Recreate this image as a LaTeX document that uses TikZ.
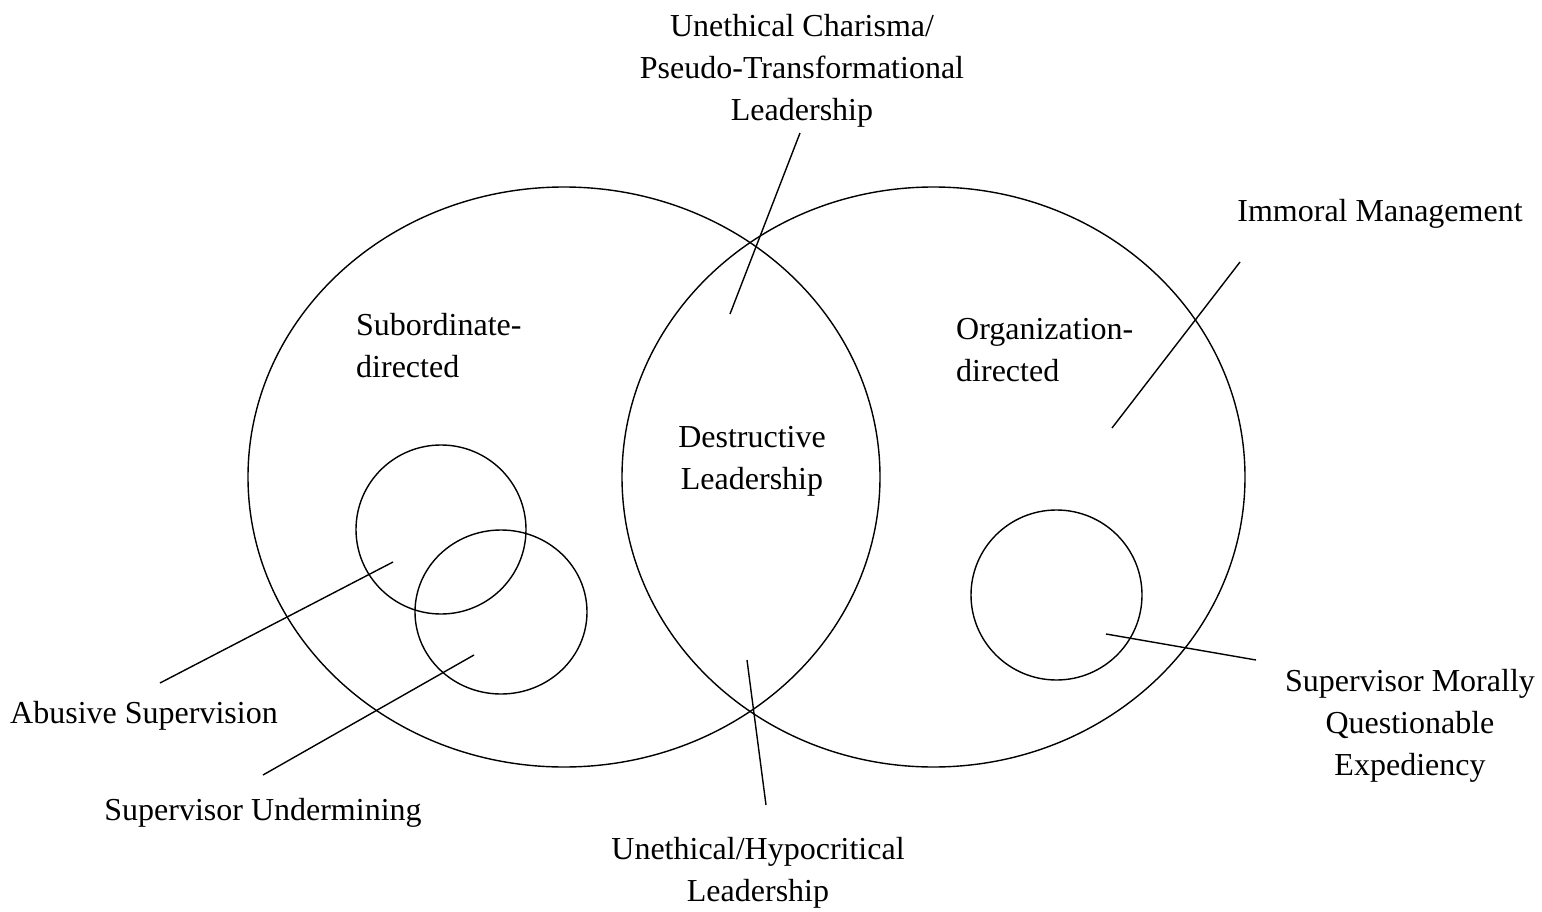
\documentclass[tikz,border=0pt]{standalone}
\usepackage{fontspec}
\setmainfont{Liberation Serif}
\begin{document}
\begin{tikzpicture}[x=1pt,y=-1pt,
  lbl/.style={inner sep=0pt,font=\fontsize{32}{42}\selectfont,align=center},
  lbll/.style={inner sep=0pt,font=\fontsize{32}{42}\selectfont,align=left,anchor=west},
  shp/.style={draw,line width=1.4pt},
  ln/.style={draw,line width=1.4pt}]
\useasboundingbox (0,0) rectangle (1542,912);
% ellipses
\draw[shp] (564,477) ellipse [x radius=316,y radius=290];
\draw[shp] (933.5,477) ellipse [x radius=311.5,y radius=290];
\draw[shp] (441,529.5) ellipse [x radius=85,y radius=84.5];
\draw[shp] (501,612) ellipse [x radius=86,y radius=82];
\draw[shp] (1056.5,595) ellipse [x radius=85.5,y radius=85];
% labels
\node[lbl] (uc) at (802,71) {Unethical Charisma/\\Pseudo-Transformational\\Leadership};
\node[lbl] (im) at (1380,214) {Immoral Management};
\node[lbll] (sd) at (356,346) {Subordinate-\\directed};
\node[lbll] (od) at (956,350) {Organization-\\directed};
\node[lbl] (dl) at (752,461) {Destructive\\Leadership};
\node[lbl] (as) at (144,716) {Abusive Supervision};
\node[lbl] (su) at (263,813) {Supervisor Undermining};
\node[lbl] (sm) at (1410,726) {Supervisor Morally\\Questionable\\Expediency};
\node[lbl] (uh) at (758,873) {Unethical/Hypocritical\\Leadership};
% connector ends
\coordinate (uc1) at (800,133); \coordinate (uc2) at (730,314);
\coordinate (im1) at (1240,262); \coordinate (im2) at (1112,428);
\coordinate (sm1) at (1256,660); \coordinate (sm2) at (1106,634);
\coordinate (uh1) at (766,805); \coordinate (uh2) at (747,660);
\coordinate (as1) at (160,683); \coordinate (as2) at (393,562);
\coordinate (su1) at (263,775); \coordinate (su2) at (474,655);
\draw[ln] (uc1) -- (uc2);
\draw[ln] (im1) -- (im2);
\draw[ln] (sm1) -- (sm2);
\draw[ln] (uh1) -- (uh2);
\draw[ln] (as1) -- (as2);
\draw[ln] (su1) -- (su2);
\end{tikzpicture}
\end{document}
